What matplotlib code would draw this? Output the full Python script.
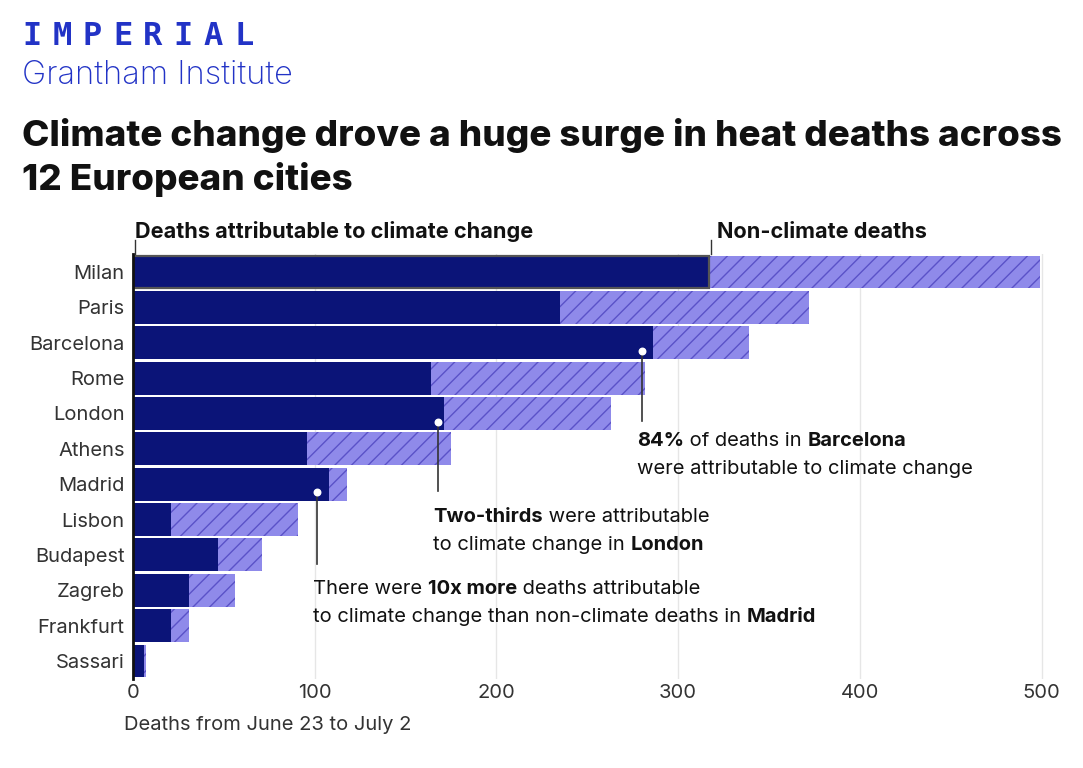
import numpy as np
import matplotlib
matplotlib.use('Agg')
import matplotlib.pyplot as plt
from matplotlib.text import Annotation

# data (deaths June 23 - July 2)
cities = ['Milan', 'Paris', 'Barcelona', 'Rome', 'London', 'Athens', 'Madrid',
          'Lisbon', 'Budapest', 'Zagreb', 'Frankfurt', 'Sassari']
climate_deaths = [317, 235, 286, 164, 171, 96, 108, 21, 47, 31, 21, 6]
total_deaths = [499, 372, 339, 282, 263, 175, 118, 91, 71, 56, 31, 7]
xticks = [0, 100, 200, 300, 400, 500]

NAVY = '#0b1478'
LILAC = '#8f8aea'
HATCH = '#5a52c8'
BLUE = '#2233c6'
INK = '#111111'

plt.rcParams['font.family'] = ['Inter', 'DejaVu Sans']
plt.rcParams['hatch.linewidth'] = 1.0

W, H = 1083, 768
fig = plt.figure(figsize=(W / 100, H / 100), dpi=100)


def px(x, y):
    # pixel position (from top-left) -> figure fraction
    return x / W, 1 - y / H


ax = fig.add_axes([133 / W, 1 - 678.7 / H, (1050.6 - 133) / W, (678.7 - 254.3) / H])

ypos = np.arange(len(cities))
non_climate = np.array(total_deaths) - np.array(climate_deaths)

ax.barh(ypos, non_climate, left=climate_deaths, height=0.93, color=LILAC,
        edgecolor=HATCH, linewidth=0, hatch='//', zorder=2)
bars = ax.barh(ypos, climate_deaths, height=0.93, color=NAVY, linewidth=0, zorder=3)
bars[0].set_edgecolor('#555555')
bars[0].set_linewidth(1.6)

ax.set_xlim(0, 505)
ax.set_ylim(len(cities) - 0.5, -0.5)
ax.set_xticks(xticks)
ax.set_xticklabels([str(t) for t in xticks], fontsize=14.5, color='#333333')
ax.set_yticks(ypos)
ax.set_yticklabels(cities, fontsize=14.5, color='#333333')
ax.tick_params(length=0, pad=6)
ax.tick_params(axis='x', pad=4)
for t in xticks[1:]:
    ax.axvline(t, color='#e6e6e6', lw=1, zorder=0)
for s in ['top', 'right', 'bottom']:
    ax.spines[s].set_visible(False)
ax.spines['left'].set_linewidth(2)
ax.spines['left'].set_color(INK)
ax.spines['left'].set_zorder(5)

# legend leader ticks
ax.plot([1, 1], [-0.5, -0.9], color='#333333', lw=1, clip_on=False)
ax.plot([318, 318], [-0.5, -0.9], color='#333333', lw=1, clip_on=False)

# annotation dots and leader lines
notes = [(280, 2, 4.2), (168, 4, 6.2), (101, 6, 8.25)]
for x, row, yend in notes:
    ax.plot([x, x], [row + 0.23, yend], color='#333333', lw=1.2, zorder=6, clip_on=False)
    ax.scatter([x], [row + 0.23], s=22, color='white', zorder=7, clip_on=False)


def rich_line(x, y, parts, size=14.5):
    # chain text pieces so bold and regular runs sit on one line
    prev = fig.text(*px(x, y), parts[0][0], fontsize=size, va='bottom', ha='left',
                    fontweight=parts[0][1], color=INK)
    for txt, wt in parts[1:]:
        prev = fig.add_artist(Annotation(
            txt, xy=(1, 0), xycoords=prev, va='bottom', ha='left',
            fontsize=size, fontweight=wt, color=INK))


rich_line(637, 450, [('84%', 'bold'), (' of deaths in ', 'normal'), ('Barcelona', 'bold')])
rich_line(637, 478, [('were attributable to climate change', 'normal')])
rich_line(433, 526, [('Two-thirds', 'bold'), (' were attributable', 'normal')])
rich_line(433, 554, [('to climate change in ', 'normal'), ('London', 'bold')])
rich_line(313, 598, [('There were ', 'normal'), ('10x more', 'bold'),
                     (' deaths attributable', 'normal')])
rich_line(313, 626, [('to climate change than non-climate deaths in ', 'normal'),
                     ('Madrid', 'bold')])

# legend labels
fig.text(*px(135, 238), 'Deaths attributable to climate change', fontsize=15.6,
         fontweight='bold', color=INK, va='baseline')
fig.text(*px(717, 238), 'Non-climate deaths', fontsize=15.6,
         fontweight='bold', color=INK, va='baseline')

# axis caption
fig.text(*px(124, 730), 'Deaths from June 23 to July 2', fontsize=14.5, color='#333333',
         va='baseline')

# header
for i, ch in enumerate('IMPERIAL'):
    fig.text(*px(22 + i * 30.3, 45), ch, fontsize=23, fontweight='bold', color=BLUE,
             family='DejaVu Sans Mono', va='baseline')
fig.text(*px(22, 84), 'Grantham Institute', fontsize=23.5, color=BLUE, va='baseline',
         fontweight='light')
fig.text(*px(22, 146), 'Climate change drove a huge surge in heat deaths across',
         fontsize=26.5, fontweight='heavy', color=INK, va='baseline')
fig.text(*px(22, 190), '12 European cities', fontsize=26.5, fontweight='heavy',
         color=INK, va='baseline')

fig.savefig('out.png', dpi=100)
